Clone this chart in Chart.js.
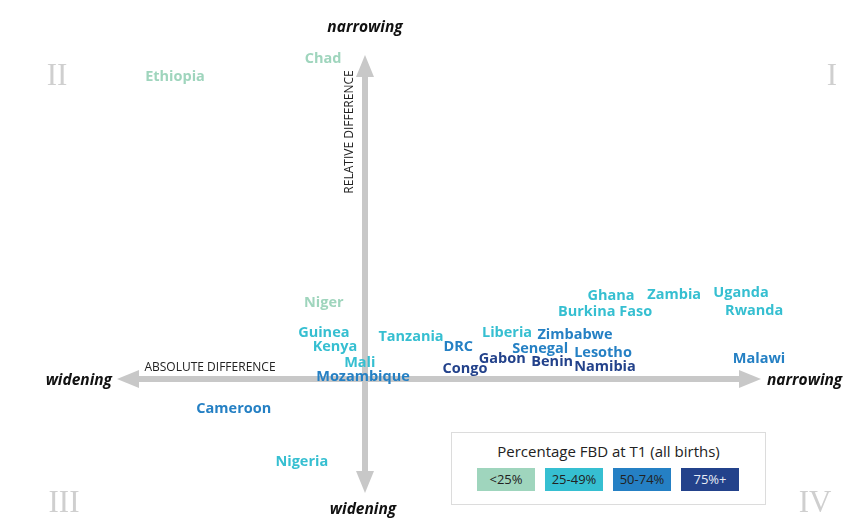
<!DOCTYPE html>
<html>
<head>
<meta charset="utf-8">
<script src="https://cdn.jsdelivr.net/npm/chart.js@4"></script>
<style>
  body { margin: 0; background: #fff; font-family: "Open Sans", sans-serif; }
  #wrap { position: relative; width: 861px; height: 531px; }
  #legendBox {
    position: absolute; left: 451px; top: 432px; width: 313px; height: 71px;
    border: 1px solid #dcdcdc; background: #fff;
  }
  #legendBox .title { text-align: center; font-size: 15px; color: #222; margin-top: 8px; }
  #legendBox .keys { display: flex; gap: 10px; margin: 7px 0 0 25px; }
  #legendBox .key { width: 58px; height: 23px; line-height: 23px; text-align: center; font-size: 13px; color: #222; }
</style>
</head>
<body>
<div id="wrap">
  <canvas id="quad" width="861" height="531"></canvas>
  <div id="legendBox">
    <div class="title">Percentage FBD at T1 (all births)</div>
    <div class="keys" id="keys"></div>
  </div>
</div>
<script>
// ======================  Data  ====================== //
const categories = ['<25%', '25-49%', '50-74%', '75%+'];
const catColors = ['#9fd5bd', '#36bfd1', '#2580c4', '#23428b'];
const catText = ['#222', '#222', '#222', '#e8ecf5'];

const countries = ['Ethiopia', 'Chad', 'Niger', 'Guinea', 'Kenya', 'Mali', 'Mozambique', 'Tanzania',
  'DRC', 'Congo', 'Gabon', 'Liberia', 'Zimbabwe', 'Senegal', 'Benin', 'Lesotho', 'Namibia',
  'Ghana', 'Burkina Faso', 'Zambia', 'Uganda', 'Rwanda', 'Malawi', 'Cameroon', 'Nigeria'];
// absolute difference (x) and relative difference (y)
const absDiff = [-4.75, -1.05, -1.03, -1.03, -0.75, -0.13, -0.05, 1.15,
  2.33, 2.5, 3.43, 3.55, 5.25, 4.38, 4.68, 5.95, 6.0,
  6.15, 6.0, 7.73, 9.4, 9.73, 9.85, -3.28, -1.58];
const relDiff = [7.55, 8.0, 1.9, 1.15, 0.8, 0.4, 0.05, 1.05,
  0.8, 0.25, 0.5, 1.15, 1.1, 0.75, 0.43, 0.65, 0.3,
  2.08, 1.68, 2.1, 2.15, 1.7, 0.5, -0.75, -2.08];
const fbdGroup = [0, 0, 0, 1, 1, 1, 2, 1,
  2, 3, 3, 1, 2, 2, 3, 2, 3,
  1, 1, 1, 1, 1, 2, 2, 1];

// ======================  Legend  ====================== //
const keys = document.getElementById('keys');
categories.forEach((c, i) => {
  const d = document.createElement('div');
  d.className = 'key';
  d.style.background = catColors[i];
  d.style.color = catText[i];
  d.textContent = c;
  keys.appendChild(d);
});

// ======================  Plugins  ====================== //
const axisPlugin = {
  id: 'axisArrows',
  beforeDatasetsDraw(chart) {
    const { ctx, scales: { x, y }, chartArea: a } = chart;
    const x0 = x.getPixelForValue(0), y0 = y.getPixelForValue(0);
    const xl = x.getPixelForValue(-6.2), xr = x.getPixelForValue(9.9);
    const yt = y.getPixelForValue(8.1), yb = y.getPixelForValue(-2.85);
    const gray = '#c8c8c8';
    ctx.save();
    ctx.strokeStyle = gray; ctx.fillStyle = gray; ctx.lineWidth = 6;
    ctx.beginPath();
    ctx.moveTo(xl + 18, y0); ctx.lineTo(xr - 18, y0);
    ctx.moveTo(x0, yt + 18); ctx.lineTo(x0, yb - 18);
    ctx.stroke();
    const head = (tx, ty, dx, dy) => {
      const L = 22, W = 9;
      const bx = tx - dx * L, by = ty - dy * L;
      ctx.beginPath();
      ctx.moveTo(tx, ty);
      ctx.lineTo(bx - dy * W, by + dx * W);
      ctx.lineTo(bx + dy * W, by - dx * W);
      ctx.closePath(); ctx.fill();
    };
    head(xl, y0, -1, 0); head(xr, y0, 1, 0);
    head(x0, yt, 0, -1); head(x0, yb, 0, 1);

    // axis end labels
    ctx.fillStyle = '#111';
    ctx.font = 'italic bold 15.5px "Open Sans"';
    ctx.textBaseline = 'middle';
    ctx.textAlign = 'center';
    ctx.fillText('narrowing', x0, yt - 27);
    ctx.fillText('widening', x0 - 2, yb + 17);
    ctx.textAlign = 'right';
    ctx.fillText('widening', xl - 5, y0 + 2);
    ctx.textAlign = 'left';
    ctx.fillText('narrowing', xr + 6, y0 + 2);

    // axis titles
    ctx.font = '12px "Open Sans"';
    ctx.fillStyle = '#222';
    ctx.textAlign = 'center';
    ctx.fillText('ABSOLUTE DIFFERENCE', 210, y0 - 11);
    ctx.save();
    ctx.translate(x0 - 15, 132);
    ctx.rotate(-Math.PI / 2);
    ctx.fillText('RELATIVE DIFFERENCE', 0, 0);
    ctx.restore();

    // quadrant numbers
    ctx.font = '31px "Liberation Serif"';
    ctx.fillStyle = '#cfcfcf';
    ctx.fillText('II', a.left + 57, a.top + 77);
    ctx.fillText('I', a.right - 29, a.top + 77);
    ctx.fillText('III', a.left + 64, a.bottom - 27);
    ctx.fillText('IV', a.right - 46, a.bottom - 27);
    ctx.restore();
  }
};

const labelPlugin = {
  id: 'countryLabels',
  afterDatasetsDraw(chart) {
    const { ctx } = chart;
    ctx.save();
    ctx.font = 'bold 14.5px "Open Sans"';
    ctx.textAlign = 'center';
    ctx.textBaseline = 'middle';
    chart.data.datasets.forEach((ds, di) => {
      chart.getDatasetMeta(di).data.forEach((pt, i) => {
        ctx.fillStyle = ds.labelColor;
        ctx.fillText(ds.data[i].name, pt.x, pt.y);
      });
    });
    ctx.restore();
  }
};

// ======================  Chart  ====================== //
const datasets = categories.map((c, g) => ({
  label: c,
  labelColor: catColors[g],
  data: countries
    .map((name, i) => ({ x: absDiff[i], y: relDiff[i], name, g: fbdGroup[i] }))
    .filter(p => p.g === g),
  pointRadius: 0
}));

new Chart(document.getElementById('quad'), {
  type: 'scatter',
  data: { datasets },
  options: {
    responsive: false,
    animation: false,
    layout: { padding: 0 },
    scales: {
      x: { display: false, min: -9.125, max: 12.4 },
      y: { display: false, min: -3.8, max: 9.475 }
    },
    plugins: {
      legend: { display: false },
      tooltip: { enabled: false }
    }
  },
  plugins: [axisPlugin, labelPlugin]
});
</script>
</body>
</html>
